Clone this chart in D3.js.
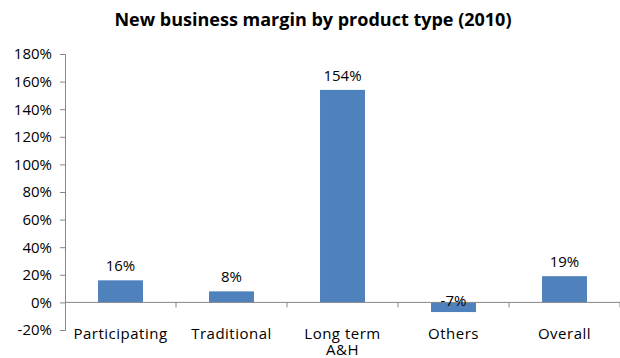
<!DOCTYPE html>
<html><head><meta charset="utf-8">
<script src="https://cdn.jsdelivr.net/npm/d3@7"></script>
<style>body{margin:0;background:#fff;} text{font-family:"Open Sans",sans-serif;}</style>
</head><body>
<svg id="c" width="620" height="358"></svg>
<script>
const categories = [["Participating"], ["Traditional"], ["Long term", "A&H"], ["Others"], ["Overall"]];
const values = [16, 8, 154, -7, 19];
const yTicks = [-20, 0, 20, 40, 60, 80, 100, 120, 140, 160, 180];
const title = "New business margin by product type (2010)";

(function () {
const svg = d3.select("#c");
const mLeft = 65, mRight = 620, mTop = 54, mBottom = 330;
const y = d3.scaleLinear().domain([-20, 180]).range([mBottom, mTop]);
const x = d3.scaleBand().domain(categories.map((d, i) => i)).range([mLeft, mRight]).paddingInner(0.595).paddingOuter(0.2975);
const axisColor = "#868686";

svg.append("text").attr("x", 313).attr("y", 26).attr("text-anchor", "middle")
  .attr("font-weight", "bold").attr("font-size", 18).attr("fill", "#000").text(title);

const ya = svg.append("g").attr("transform", `translate(${mLeft},0)`)
  .call(d3.axisLeft(y).tickValues(yTicks).tickFormat(d => d + "%").tickSize(5).tickPadding(8));
ya.select(".domain").attr("stroke", axisColor);
ya.selectAll(".tick line").attr("stroke", axisColor);
ya.selectAll(".tick text").attr("font-size", 15).attr("fill", "#000").style("font-family", "Open Sans");

svg.append("g").selectAll("rect").data(values).join("rect")
  .attr("x", (d, i) => x(i)).attr("width", x.bandwidth())
  .attr("y", d => y(Math.max(0, d))).attr("height", d => Math.abs(y(d) - y(0)))
  .attr("fill", "#4f81bd");

const y0 = y(0);
svg.append("line").attr("x1", mLeft).attr("x2", mRight).attr("y1", y0).attr("y2", y0).attr("stroke", axisColor);
const step = x.step();
d3.range(1, categories.length + 1).forEach(i => {
  const bx = mLeft + step * i;
  svg.append("line").attr("x1", bx).attr("x2", bx).attr("y1", y0).attr("y2", y0 + 5).attr("stroke", axisColor);
});

const cl = svg.append("g").selectAll("text").data(categories).join("text")
  .attr("text-anchor", "middle").attr("font-size", 15).attr("letter-spacing", 0.5).attr("fill", "#000")
  .attr("x", (d, i) => x(i) + x.bandwidth() / 2).attr("y", 339);
cl.selectAll("tspan").data(d => d).join("tspan")
  .attr("x", function () { return d3.select(this.parentNode).attr("x"); })
  .attr("dy", (d, j) => j === 0 ? 0 : 16).text(d => d);

svg.append("g").selectAll("text").data(values).join("text")
  .attr("text-anchor", "middle").attr("font-size", 15).attr("fill", "#000")
  .attr("x", (d, i) => x(i) + x.bandwidth() / 2)
  .attr("y", d => d >= 0 ? y(d) - 9 : y(d) - 6)
  .text(d => d + "%");
})();
</script>
</body></html>
